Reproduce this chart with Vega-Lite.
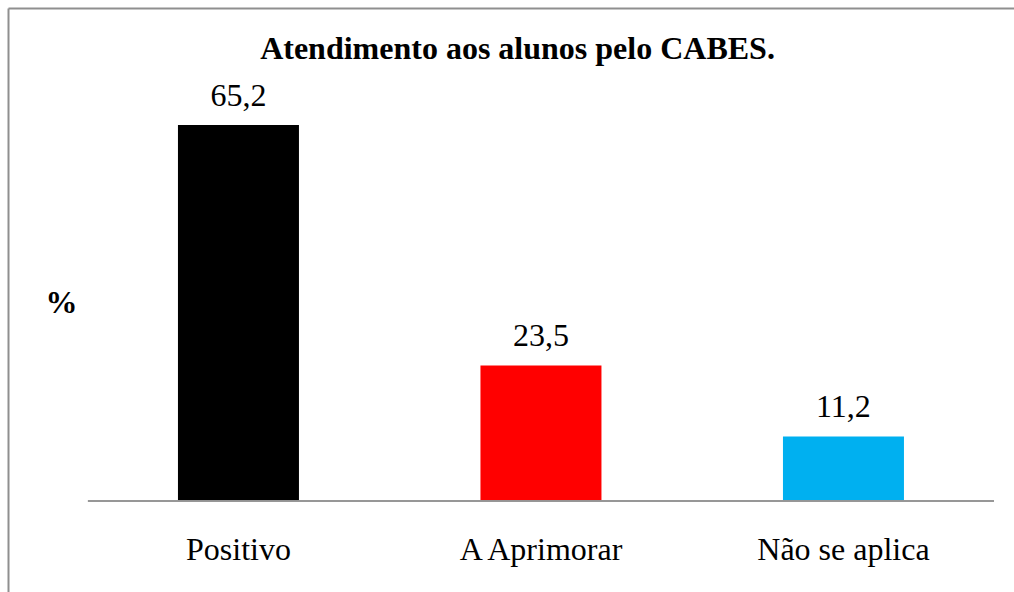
{
  "$schema": "https://vega.github.io/schema/vega-lite/v6.json",
  "width": 1006,
  "height": 584,
  "padding": {"left": 8, "top": 8, "right": 0, "bottom": 0},
  "autosize": {"type": "none"},
  "background": "white",
  "config": {"view": {"stroke": null}, "font": "Liberation Serif"},
  "data": {
    "values": [
      {"categoria": "Positivo", "valor": 65.2, "rotulo": "65,2"},
      {"categoria": "A Aprimorar", "valor": 23.5, "rotulo": "23,5"},
      {"categoria": "Não se aplica", "valor": 11.2, "rotulo": "11,2"}
    ]
  },
  "layer": [
    {
      "mark": {"type": "bar"},
      "encoding": {
        "x": {
          "field": "categoria",
          "type": "nominal",
          "sort": null,
          "scale": {
            "domain": ["Positivo", "A Aprimorar", "Não se aplica"],
            "paddingInner": 0.6,
            "paddingOuter": 0.4628,
            "align": 0.607
          },
          "axis": {
            "orient": "bottom",
            "offset": -91,
            "domain": false,
            "ticks": false,
            "tickSize": 0,
            "grid": false,
            "labelPadding": 58,
            "labelBaseline": "alphabetic",
            "labelFont": "Liberation Serif",
            "labelFontSize": 32,
            "labelColor": "black",
            "labelAngle": 0,
            "title": null
          }
        },
        "y": {
          "field": "valor",
          "type": "quantitative",
          "title": "%",
          "scale": {"domain": [-15.78, 85.49], "nice": false, "zero": false},
          "axis": {
            "orient": "left",
            "domain": true,
            "domainColor": "#8f8f8f",
            "domainWidth": 2,
            "ticks": false,
            "labels": false,
            "grid": false,
            "title": "%",
            "titleAngle": 0,
            "titleX": 53,
            "titleY": 294,
            "titleAlign": "center",
            "titleBaseline": "middle",
            "titleFont": "Liberation Serif",
            "titleFontSize": 32,
            "titleFontWeight": "bold",
            "titleColor": "black"
          }
        },
        "y2": {"datum": 0},
        "color": {
          "field": "categoria",
          "type": "nominal",
          "scale": {
            "domain": ["Positivo", "A Aprimorar", "Não se aplica"],
            "range": ["#000000", "#FF0000", "#00B0F0"]
          },
          "legend": null
        }
      }
    },
    {
      "mark": {
        "type": "text",
        "baseline": "alphabetic",
        "dy": -19,
        "fontSize": 32,
        "font": "Liberation Serif",
        "color": "black"
      },
      "encoding": {
        "x": {"field": "categoria", "type": "nominal", "sort": null, "axis": null},
        "y": {"field": "valor", "type": "quantitative", "title": "%"},
        "text": {"field": "rotulo"}
      }
    },
    {
      "mark": {"type": "rule", "color": "#969696", "strokeWidth": 1.5},
      "encoding": {
        "x": {
          "datum": "Positivo",
          "bandPosition": -0.744,
          "axis": {
            "orient": "top",
            "domain": true,
            "domainColor": "#8f8f8f",
            "domainWidth": 2,
            "ticks": false,
            "labels": false,
            "grid": false,
            "title": "Atendimento aos alunos pelo CABES.",
            "titleX": 509,
            "titleY": 50,
            "titleAlign": "center",
            "titleAnchor": "start",
            "titleBaseline": "alphabetic",
            "titleAngle": 0,
            "titleFont": "Liberation Serif",
            "titleFontSize": 32,
            "titleFontWeight": "bold",
            "titleColor": "black"
          }
        },
        "x2": {"datum": "Não se aplica", "bandPosition": 1.744},
        "y": {"datum": 0, "title": "%"}
      }
    }
  ],
  "resolve": {"axis": {"x": "independent"}}
}
